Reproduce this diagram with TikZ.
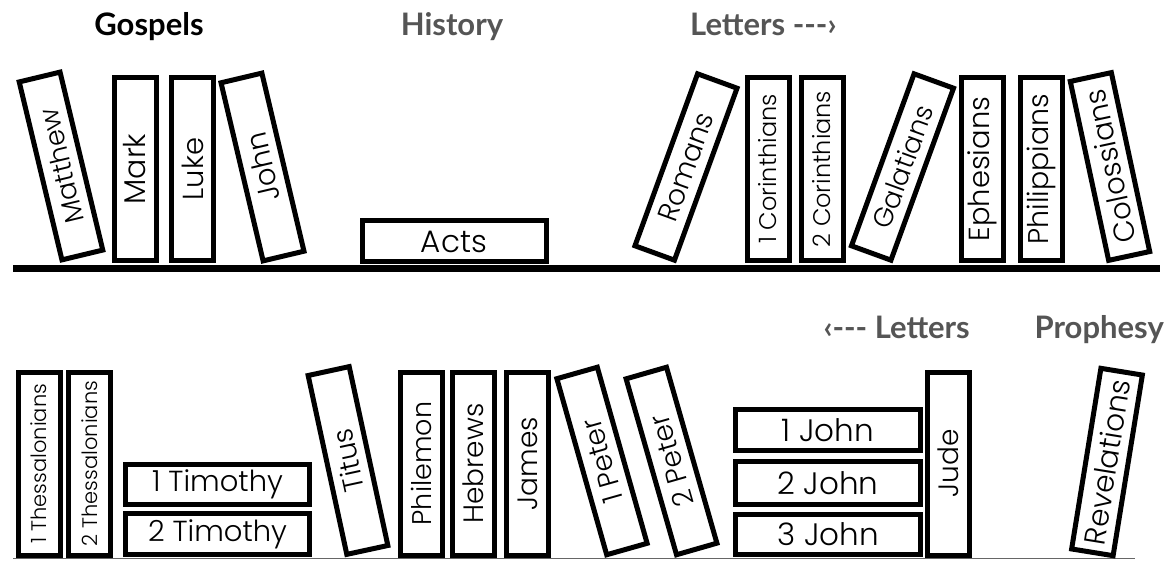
\documentclass[tikz,border=0pt]{standalone}
\usepackage{fontspec}
\newfontfamily\spinefont{Poppins Light}
\newfontfamily\headfont{Lato}
\definecolor{headgray}{HTML}{555555}
\newcommand\spinesize[1]{\spinefont\fontsize{#1}{#1}\selectfont}
\tikzset{
  book/.style={draw=black, line width=5pt, fill=white, inner sep=0pt,
    font=\spinesize{28}},
  stand/.style={book, minimum width=183pt, minimum height=42pt},
  flat/.style={book, minimum width=184pt, minimum height=41pt},
  heading/.style={anchor=base, inner sep=0pt, font=\headfont\bfseries\fontsize{31}{31}\selectfont},
}
\begin{document}
\begin{tikzpicture}[x=1pt,y=1pt]
\useasboundingbox (0,0) rectangle (1173,-561);
% shelves
\coordinate (s1a) at (13,-268.5);
\coordinate (s1b) at (1160,-268.5);
\draw[line width=7pt] (s1a) -- (s1b);
\coordinate (s2a) at (13,-558.5);
\coordinate (s2b) at (1135,-558.5);
\draw[line width=1.5pt, black!60] (s2a) -- (s2b);

% headings
\node[heading, text=black] (hgos) at (149,-36) {Gospels};
\node[heading, text=headgray] (hhis) at (452,-36) {History};
\node[heading, text=headgray, anchor=base west] (hlet1) at (690,-36) {Letters ---›};
\node[heading, text=headgray, anchor=base east] (hlet2) at (970,-338) {‹--- Letters};
\node[heading, text=headgray, anchor=base east] (hpro) at (1164,-338) {Prophesy};

% top shelf books
\node[stand, rotate=103.5, font=\spinesize{27}] (matthew) at (61,-166) {Matthew};
\node[stand, rotate=90, font=\spinesize{30}] (mark) at (135,-169) {Mark};
\node[stand, rotate=90, font=\spinesize{29}] (luke) at (192.5,-169) {Luke};
\node[stand, rotate=103.3, font=\spinesize{29}] (john) at (262.5,-167) {John};
\node[flat, font=\spinesize{31}] (acts) at (454,-241.5) {Acts};
\node[stand, rotate=70] (romans) at (686,-167) {Romans};
\node[stand, rotate=90, font=\spinesize{24}] (cor1) at (768,-169) {1 Corinthians};
\node[stand, rotate=90, font=\spinesize{24}] (cor2) at (822,-169) {2 Corinthians};
\node[stand, rotate=70, font=\spinesize{27}] (galatians) at (902.5,-167) {Galatians};
\node[stand, rotate=90, font=\spinesize{29}] (ephesians) at (982.5,-169) {Ephesians};
\node[stand, rotate=90, font=\spinesize{28.5}] (philippians) at (1041.5,-169) {Philippians};
\node[stand, rotate=102.1, font=\spinesize{29}] (colossians) at (1110,-166.5) {Colossians};

% bottom shelf books
\node[stand, rotate=90, font=\spinesize{21}] (thes1) at (39,-463.5) {1 Thessalonians};
\node[stand, rotate=90, font=\spinesize{21}] (thes2) at (89.5,-463.5) {2 Thessalonians};
\node[flat, minimum height=40pt, font=\spinesize{29}] (tim1) at (217.5,-484.5) {1 Timothy};
\node[flat, minimum height=41pt, font=\spinesize{29}] (tim2) at (217.5,-534) {2 Timothy};
\node[stand, rotate=102.2] (titus) at (348,-460.5) {Titus};
\node[stand, rotate=90, font=\spinesize{27}] (philemon) at (421,-463.5) {Philemon};
\node[stand, rotate=90] (hebrews) at (473.5,-463.5) {Hebrews};
\node[stand, rotate=90] (james) at (527.5,-463.5) {James};
\node[stand, rotate=105.8] (peter1) at (602,-461) {1 Peter};
\node[stand, rotate=106] (peter2) at (671.5,-461) {2 Peter};
\node[flat, minimum width=185pt, minimum height=41pt, font=\spinesize{31}] (john1) at (828,-430) {1 John};
\node[flat, minimum width=185pt, minimum height=43pt, font=\spinesize{31}] (john2) at (828,-483) {2 John};
\node[flat, minimum width=185pt, minimum height=40pt, font=\spinesize{31}] (john3) at (828,-534.5) {3 John};
\node[stand, rotate=90] (jude) at (948,-463.5) {Jude};
\node[stand, rotate=80.8, font=\spinesize{29.5}] (revelations) at (1107,-462) {Revelations};
\end{tikzpicture}
\end{document}
